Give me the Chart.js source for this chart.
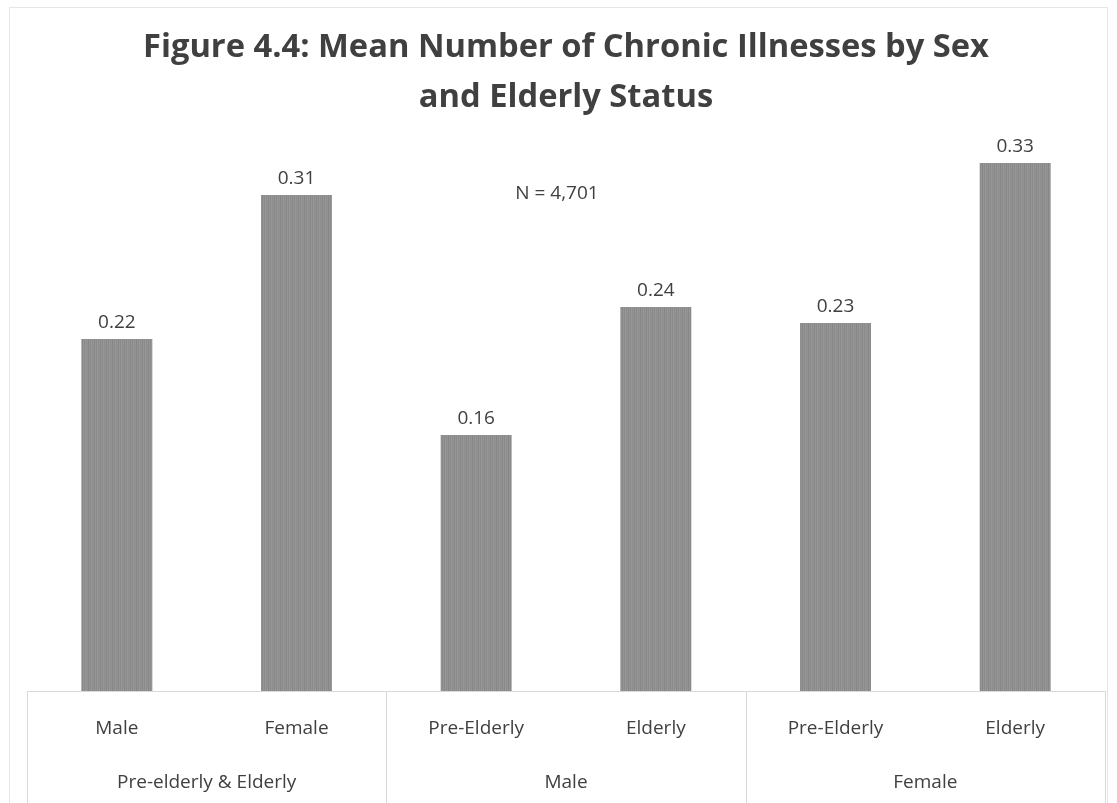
<!DOCTYPE html>
<html>
<head>
<meta charset="utf-8">
<title>Mean Number of Chronic Illnesses by Sex and Elderly Status</title>
<script src="https://cdn.jsdelivr.net/npm/chart.js@4/dist/chart.umd.min.js"></script>
<style>
  html, body { margin: 0; padding: 0; background: #ffffff; }
  #wrap { width: 1117px; height: 803px; }
</style>
</head>
<body>
<div id="wrap"><canvas id="chart" width="1117" height="803"></canvas></div>
<script>
// Bar categories (inner level of the axis) and their outer grouping
const categories = ['Male', 'Female', 'Pre-Elderly', 'Elderly', 'Pre-Elderly', 'Elderly'];
const groupLabels = ['Pre-elderly & Elderly', 'Male', 'Female'];
const groupSizes = [2, 2, 2];

// Mean number of chronic illnesses per category
const meanIllnesses = [0.22, 0.31, 0.16, 0.24, 0.23, 0.33];

const titleLines = ['Figure 4.4: Mean Number of Chronic Illnesses by Sex', 'and Elderly Status'];
const noteText = 'N = 4,701';

const TEXT = '#404040';
const LINE = '#d9d9d9';
const FONT = '"Open Sans", Lato, sans-serif';

// Grey fill with fine vertical streaks
function makeStripes() {
  const c = document.createElement('canvas');
  c.width = 6; c.height = 4;
  const g = c.getContext('2d');
  const shades = ['#8a8a8a', '#979797', '#8e8e8e', '#939393', '#878787', '#959595'];
  shades.forEach((s, i) => { g.fillStyle = s; g.fillRect(i, 0, 1, 4); });
  return g.createPattern(c, 'repeat');
}

// Frame, axis line, group separators, value labels and note
const framePlugin = {
  id: 'frame',
  beforeDraw(chart) {
    const ctx = chart.ctx;
    ctx.save();
    ctx.fillStyle = '#ffffff';
    ctx.fillRect(0, 0, chart.width, chart.height);
    ctx.strokeStyle = '#e6e6e6';
    ctx.lineWidth = 1;
    ctx.strokeRect(9.5, 7.5, chart.width - 19, chart.height - 4);
    ctx.restore();
  },
  afterDraw(chart) {
    const ctx = chart.ctx;
    const x = chart.scales.x;
    const area = chart.chartArea;
    const half = (x.getPixelForValue(1) - x.getPixelForValue(0)) / 2;
    ctx.save();
    ctx.strokeStyle = LINE;
    ctx.lineWidth = 1;
    ctx.beginPath();
    ctx.moveTo(area.left, Math.round(area.bottom) + 0.5);
    ctx.lineTo(area.right, Math.round(area.bottom) + 0.5);
    let idx = 0;
    const bounds = [x.getPixelForValue(0) - half];
    groupSizes.forEach(n => { idx += n; bounds.push(x.getPixelForValue(idx - 1) + half); });
    bounds.forEach(b => {
      const px = Math.round(b) + 0.5;
      ctx.moveTo(px, area.bottom);
      ctx.lineTo(px, chart.height);
    });
    ctx.stroke();

    ctx.fillStyle = TEXT;
    ctx.font = '19px ' + FONT;
    ctx.textAlign = 'center';
    ctx.textBaseline = 'alphabetic';
    const meta = chart.getDatasetMeta(0);
    meta.data.forEach((bar, i) => {
      ctx.fillText(meanIllnesses[i].toFixed(2), bar.x, bar.y - 11);
    });

    ctx.fillText(noteText, 557, 199);
    ctx.restore();
  }
};

new Chart(document.getElementById('chart'), {
  type: 'bar',
  data: {
    labels: categories,
    datasets: [{
      data: meanIllnesses,
      backgroundColor: makeStripes(),
      borderWidth: 0,
      categoryPercentage: 1,
      barPercentage: 0.395,
      xAxisID: 'x',
      yAxisID: 'y'
    }]
  },
  options: {
    responsive: false,
    animation: false,
    layout: { padding: { left: 27, right: 12, top: 0, bottom: 0 } },
    plugins: {
      legend: { display: false },
      tooltip: { enabled: false },
      title: {
        display: true,
        text: titleLines,
        color: TEXT,
        font: { family: FONT, size: 32.7, weight: 'bold', lineHeight: 1.545 },
        padding: { top: 22, bottom: 8 }
      }
    },
    scales: {
      y: {
        display: false,
        min: 0,
        max: 0.35
      },
      x: {
        position: 'bottom',
        weight: 1,
        grid: { display: false, drawTicks: false, tickLength: 0 },
        border: { display: false },
        ticks: { color: TEXT, font: { family: FONT, size: 19 }, padding: 26, maxRotation: 0, autoSkip: false },
        afterFit(scale) { scale.height = 60; }
      },
      x2: {
        type: 'category',
        labels: groupLabels,
        position: 'bottom',
        weight: 2,
        offset: true,
        grid: { display: false, drawTicks: false, tickLength: 0 },
        border: { display: false },
        ticks: { color: TEXT, font: { family: FONT, size: 19 }, padding: 20, maxRotation: 0, autoSkip: false },
        afterFit(scale) { scale.height = 52; }
      }
    }
  },
  plugins: [framePlugin]
});
</script>
</body>
</html>
